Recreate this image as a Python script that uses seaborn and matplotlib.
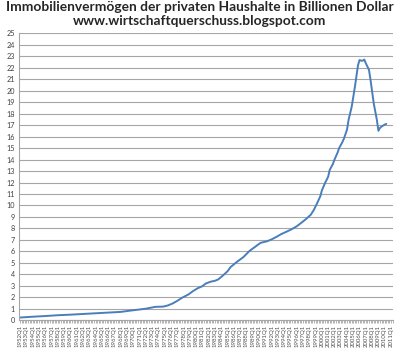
"""Household real estate wealth, quarterly line chart."""

import matplotlib

matplotlib.use("Agg")
import matplotlib.pyplot as plt
import numpy as np
import pandas as pd
import seaborn as sns

# time position in years (quarter steps) and value in trillions
years = [
    1952.0, 1954.0, 1956.0, 1958.0, 1960.0, 1962.0, 1964.0, 1966.0, 1968.0,
    1969.5, 1971.0, 1972.0, 1973.5, 1974.75, 1975.5, 1976.25, 1977.0, 1977.75,
    1978.75, 1979.5, 1980.25, 1981.0, 1981.5, 1982.25, 1983.0, 1983.5, 1984.25,
    1985.0, 1985.5, 1986.5, 1987.5, 1988.5, 1989.5, 1990.25, 1991.25, 1992.0,
    1992.75, 1993.5, 1994.5, 1995.25, 1996.0, 1996.75, 1997.5, 1998.25, 1998.75,
    1999.25, 1999.75, 2000.0, 2000.5, 2001.0, 2001.25, 2001.75, 2002.0, 2002.5,
    2002.75, 2003.25, 2003.5, 2004.0, 2004.25, 2004.75, 2005.25, 2005.75, 2006.0,
    2006.25, 2006.5, 2006.75, 2007.0, 2007.5, 2007.75, 2008.25, 2008.75, 2009.0,
    2009.25, 2009.5, 2010.0, 2010.25,
]
values = [
    0.25, 0.32, 0.38, 0.45, 0.50, 0.56, 0.62, 0.68, 0.74,
    0.85, 0.95, 1.02, 1.18, 1.20, 1.30, 1.47, 1.70, 1.97,
    2.25, 2.55, 2.80, 2.98, 3.20, 3.36, 3.45, 3.56, 3.90,
    4.28, 4.65, 5.10, 5.50, 6.05, 6.45, 6.75, 6.88, 7.05,
    7.26, 7.50, 7.75, 7.95, 8.19, 8.50, 8.83, 9.20, 9.64,
    10.2, 10.8, 11.3, 11.95, 12.5, 13.1, 13.6, 13.98, 14.6,
    15.0, 15.5, 15.8, 16.6, 17.45, 18.6, 20.3, 22.2, 22.66,
    22.6, 22.6, 22.7, 22.37, 21.8, 20.9, 18.9, 17.45, 16.5,
    16.75, 16.87, 17.04, 17.1,
]
tick_years = list(range(1952, 2012))
tick_labels = [f"{y}Q1" for y in tick_years]

TITLE = "Immobilienvermögen der privaten Haushalte in Billionen Dollar\nwww.wirtschaftquerschuss.blogspot.com"


def main() -> None:
    sns.set_style("white")
    plt.rcParams["font.family"] = ["Lato", "DejaVu Sans"]

    df = pd.DataFrame({"year": years, "value": values})

    fig = plt.figure(figsize=(4, 3.6), dpi=100)
    ax = fig.add_axes([0.048, 0.11, 0.935, 0.798])

    ax.set_ylim(0, 25)
    ax.set_yticks(range(0, 26))
    ax.yaxis.grid(True, color="#a6a6a6", linewidth=0.8)
    ax.set_axisbelow(True)

    sns.lineplot(data=df, x="year", y="value", ax=ax, color="#4a7ebb", linewidth=1.4)

    ax.set_xlim(1951.85, 2011.35)
    ax.set_xticks(tick_years)
    ax.set_xticklabels(tick_labels, rotation=90)
    ax.set_xticks(np.arange(1952, 2011.3, 0.25), minor=True)
    ax.tick_params(axis="x", which="both", direction="out", length=2.5,
                   color="#a6a6a6", width=0.6, labelsize=4.3, labelcolor="#505050", pad=0.8,
                   bottom=True)
    ax.tick_params(axis="y", length=0, labelsize=5.2, labelcolor="#404040", pad=3)
    ax.set_xlabel("")
    ax.set_ylabel("")

    for side in ("top", "right"):
        ax.spines[side].set_visible(False)
    for side in ("left", "bottom"):
        ax.spines[side].set_color("#a6a6a6")
        ax.spines[side].set_linewidth(0.8)

    fig.text(0.5, 0.997, TITLE, ha="center", va="top", fontsize=9.9,
             fontweight="bold", linespacing=1.2)

    fig.savefig("out.png", dpi=100)
    plt.close(fig)


if __name__ == "__main__":
    main()
